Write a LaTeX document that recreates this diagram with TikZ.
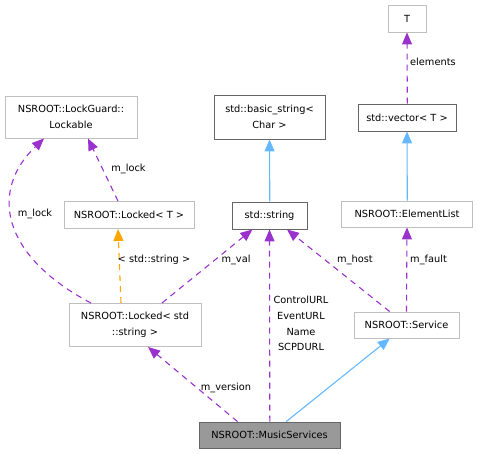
\documentclass[tikz,border=0pt]{standalone}
\usepackage{fontspec}
\setmainfont{DejaVu Sans}
\usetikzlibrary{arrows.meta,positioning}
\definecolor{dxMember}{HTML}{9A32CD}
\definecolor{dxBase}  {HTML}{63B8FF}
\definecolor{dxTmpl}  {HTML}{FFA500}
\definecolor{dxLight} {HTML}{BFBFBF}
\definecolor{dxDark}  {HTML}{666666}
\definecolor{dxFill}  {HTML}{999999}

\begin{document}
\begin{tikzpicture}[x=1pt,y=-1pt,
      font=\fontsize{9.8}{15.7}\selectfont,
      cls/.style={draw=dxLight,fill=white,line width=0.9pt,inner sep=0pt,
                  align=center},
      doc/.style={cls,draw=dxDark},
      mem/.style={-{Triangle[length=12pt,width=10pt]},draw=dxMember,
                  line width=1.1pt,dash pattern=on 6pt off 5pt},
      base/.style={-{Triangle[length=12pt,width=10pt]},draw=dxBase,
                   line width=1.1pt},
      tmpl/.style={mem,draw=dxTmpl},
      lbl/.style={inner sep=0pt,align=center}]
    \useasboundingbox (0,0) rectangle (478,453);

    % classes
    \node[cls,minimum width=38pt,minimum height=27pt]  (tT)    at (407,18.5)  {T};
    \node[doc,minimum width=98pt,minimum height=27pt]  (vec)   at (407,117.5) {std::vector< T >};
    \node[cls,minimum width=131pt,minimum height=26pt] (elist) at (407,214)   {NSROOT::ElementList};
    \node[doc,minimum width=111pt,minimum height=44pt] (bstr)  at (269.5,117) {std::basic\_string<\\Char >};
    \node[doc,minimum width=75pt,minimum height=27pt]  (str)   at (269.5,215.5) {std::string};
    \node[cls,minimum width=132pt,minimum height=42pt] (lockable) at (71,117) {NSROOT::LockGuard::\\Lockable};
    \node[cls,minimum width=130pt,minimum height=27pt] (lockT) at (129,215)   {NSROOT::Locked< T >};
    \node[cls,minimum width=132pt,minimum height=43pt] (lstr)  at (135,325)   {NSROOT::Locked< std\\::string >};
    \node[cls,minimum width=105pt,minimum height=26pt] (serv)  at (406.5,325) {NSROOT::Service};
    \node[doc,fill=dxFill,minimum width=141pt,minimum height=26pt] (music) at (269.5,435) {NSROOT::MusicServices};

    % inheritance
    \draw[base] ([xshift=0.3pt]elist.north) -- (vec.south);
    \draw[base] ([xshift=0.3pt]str.north) -- (bstr.south);
    \draw[base] (music) -- (serv);

    % members
    \draw[mem] ([xshift=0.3pt]vec.north) -- (tT.south);
    \draw[mem] ([xshift=-11pt]lockT.north) -- ([xshift=17pt]lockable.south);
    \draw[mem] ([xshift=-44pt]lstr.north) .. controls (0,255) and (-10,190) .. ([xshift=-27pt]lockable.south);
    \draw[tmpl] ([xshift=-14pt]lstr.north) -- ([xshift=-11pt]lockT.south);
    \foreach \s in {lstr,serv}
      \draw[mem] (\s) -- (str);
    \draw[mem] ([xshift=0.3pt]music.north) -- (str.south);
    \draw[mem] (serv.north) -- (elist.south);
    \draw[mem] ([xshift=-32pt]music.north) -- ([xshift=13pt]lstr.south);

    % labels
    \node[lbl,anchor=west] (lElem) at (410,62) {elements};
    \node[lbl] (lLock1) at (128.5,169) {m\_lock};
    \node[lbl] (lLock2) at (35,214) {m\_lock};
    \node[lbl] (lTmpl)  at (154,260) {< std::string >};
    \node[lbl] (lVal)   at (236,260) {m\_val};
    \node[lbl] (lHost)  at (355,260) {m\_host};
    \node[lbl,anchor=west] (lFault) at (410,260) {m\_fault};
    \node[lbl] (lUrls)  at (301,323.5) {ControlURL\\EventURL\\Name\\SCPDURL};
    \node[lbl] (lVer)   at (226,388) {m\_version};
  \end{tikzpicture}
\end{document}
